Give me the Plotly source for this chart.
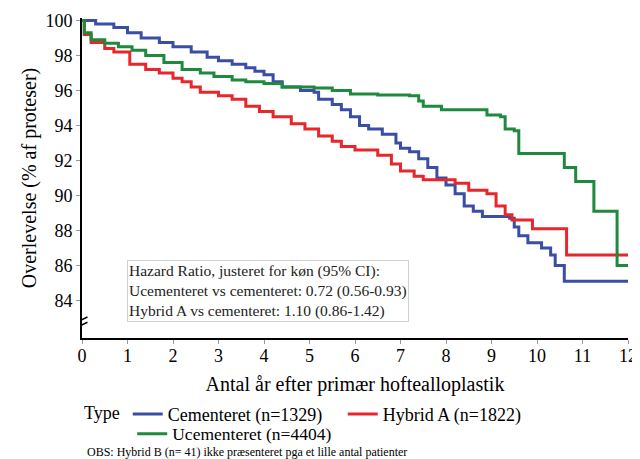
import plotly.graph_objects as go

# Kaplan-Meier style step data (years, survival %)
cem_t = [0, 0.3, 0.7, 1.0, 1.3, 1.7, 2.0, 2.4, 2.75, 3.0, 3.3, 3.6, 3.8, 4.0, 4.2, 4.4, 4.8, 5.1, 5.2, 5.5, 5.7,
         5.9, 6.1, 6.3, 6.6, 6.9, 7.0, 7.2, 7.4, 7.6, 7.8, 8.0, 8.2, 8.4, 8.6, 8.8, 9.4, 9.5, 9.6, 9.8, 10.1,
         10.3, 10.4, 10.6, 12.0]
cem_v = [100, 99.8, 99.6, 99.3, 99.0, 98.75, 98.5, 98.2, 97.9, 97.7, 97.5, 97.3, 97.1, 96.9, 96.5, 96.2, 96.0,
         95.9, 95.5, 95.2, 94.9, 94.5, 94.0, 93.8, 93.5, 93.0, 92.7, 92.5, 92.1, 91.6, 91.0, 90.6, 90.1, 89.4,
         89.1, 88.8, 88.7, 88.2, 87.7, 87.3, 87.0, 86.6, 86.0, 85.1, 85.1]

hyb_t = [0, 0.05, 0.2, 0.5, 0.7, 1.05, 1.4, 1.7, 2.0, 2.2, 2.4, 2.6, 3.0, 3.3, 3.6, 3.9, 4.2, 4.6, 4.9, 5.2,
         5.5, 5.7, 6.0, 6.5, 6.8, 7.0, 7.3, 7.5, 8.2, 8.5, 8.9, 9.1, 9.3, 9.45, 9.9, 10.65, 12.0]
hyb_v = [100, 99.2, 98.75, 98.4, 98.2, 97.5, 97.2, 97.0, 96.7, 96.5, 96.2, 95.9, 95.7, 95.5, 95.1, 94.8, 94.5,
         94.1, 93.8, 93.4, 93.1, 92.8, 92.6, 92.3, 91.8, 91.4, 91.1, 90.9, 90.7, 90.3, 90.1, 89.4, 88.9, 88.6,
         88.1, 86.6, 86.6]

uce_t = [0, 0.05, 0.2, 0.5, 0.8, 1.1, 1.4, 1.8, 2.2, 2.6, 2.9, 3.3, 3.6, 4.0, 4.4, 5.1, 5.5, 5.9, 6.5, 7.2,
         7.4, 7.5, 7.9, 8.8, 8.9, 9.2, 9.3, 9.5, 9.6, 10.6, 10.85, 11.25, 11.76, 12.0]
uce_v = [100, 99.3, 98.9, 98.7, 98.5, 98.3, 98.0, 97.6, 97.2, 97.0, 96.8, 96.6, 96.5, 96.4, 96.2, 96.15, 96.0,
         95.8, 95.75, 95.7, 95.4, 95.1, 94.9, 94.9, 94.6, 94.5, 93.8, 93.7, 92.4, 91.6, 90.8, 89.1, 86.0, 86.0]

names = ["Cementeret (n=1329)", "Hybrid A (n=1822)", "Ucementeret (n=4404)"]
colors = ["#3a4ea6", "#e8262b", "#1d8a3e"]
legend_ids = ["legend", "legend", "legend2"]

x_ticks = list(range(0, 13))
y_ticks = list(range(84, 101, 2))

FONT = "Liberation Serif"

fig = go.Figure()
for t, v, n, c, lg in zip([cem_t, hyb_t, uce_t], [cem_v, hyb_v, uce_v], names, colors, legend_ids):
    fig.add_trace(go.Scatter(x=t, y=v, mode="lines", name=n, legend=lg,
                             line=dict(color=c, width=3, shape="hv")))

# page has an 8px body margin, so the figure is sized 632x451
fig.update_layout(
    width=632, height=451,
    margin=dict(l=74, r=12, t=10, b=121, autoexpand=False),
    paper_bgcolor="white", plot_bgcolor="white",
    font=dict(family=FONT, color="black", size=18),
    showlegend=True,
    legend=dict(orientation="h", x=0.0, xanchor="left", y=-0.1805, yanchor="top",
                title=dict(text="Type", side="left", font=dict(size=18)),
                font=dict(size=18, family=FONT), itemwidth=30,
                entrywidth=170, entrywidthmode="pixels",
                tracegroupgap=0, bgcolor="rgba(0,0,0,0)"),
    legend2=dict(orientation="h", x=0.092, xanchor="left", y=-0.243, yanchor="top",
                 font=dict(size=17.5, family=FONT), itemwidth=30,
                 tracegroupgap=0, bgcolor="rgba(0,0,0,0)"),
    xaxis=dict(range=[0, 12], tickvals=x_ticks, ticks="outside", ticklen=4, automargin=False,
               tickcolor="#999", showline=True, linecolor="black", linewidth=2,
               showgrid=False, zeroline=False, tickfont=dict(size=18), ticklabelstandoff=-4,
               title=dict(text="Antal år efter primær hoftealloplastik", font=dict(size=20), standoff=12)),
    yaxis=dict(range=[81.85, 100.15], tickvals=y_ticks, ticks="outside", ticklen=4, automargin=False,
               tickcolor="#999", showline=True, linecolor="black", linewidth=2,
               showgrid=False, zeroline=False, tickfont=dict(size=18),
               title=dict(text="Overlevelse (% af proteser)", font=dict(size=20), standoff=3)),
)

fig.add_annotation(
    xref="paper", yref="paper", x=0.083, y=0.245, xanchor="left", yanchor="top",
    text="Hazard Ratio, justeret for køn (95% CI):<br>Ucementeret vs cementeret: 0.72 (0.56-0.93)"
         "<br>Hybrid A vs cementeret: 1.10 (0.86-1.42)",
    showarrow=False, align="left", font=dict(size=15.5, family=FONT, color="#222"),
    bordercolor="#cfcfcf", borderwidth=1, borderpad=1, bgcolor="white")

fig.add_annotation(
    xref="paper", yref="paper", x=0.005, y=-0.356, xanchor="left", yanchor="middle",
    text="OBS: Hybrid B (n= 41) ikke præsenteret pga et lille antal patienter",
    showarrow=False, font=dict(size=12, family=FONT, color="black"))

# axis break marker
fig.add_shape(type="path", xref="x", yref="y",
              path="M -0.12,82.45 L 0.12,82.75 M -0.12,82.75 L 0.12,83.05",
              line=dict(color="black", width=1.5))

fig.write_html("out.html")
